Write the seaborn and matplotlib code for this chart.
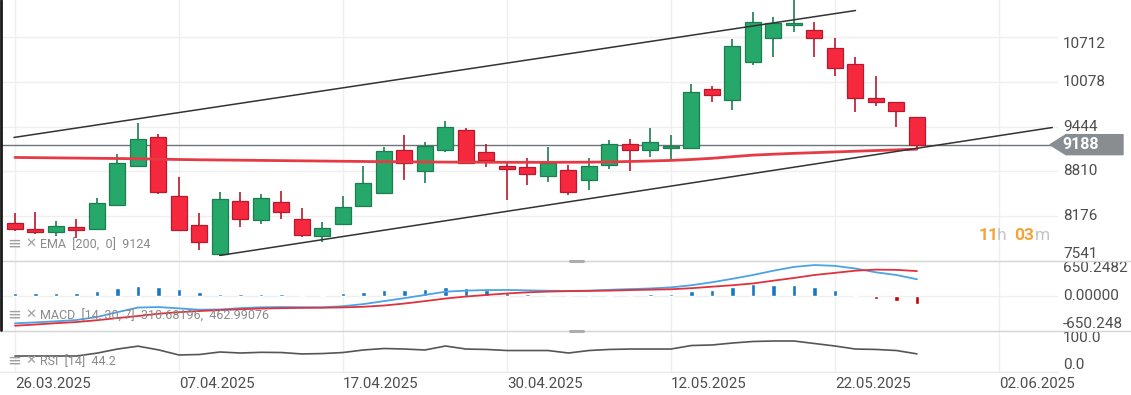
import numpy as np
import pandas as pd
import matplotlib
matplotlib.use("Agg")
import matplotlib.pyplot as plt
import matplotlib.transforms as mtransforms
from matplotlib.lines import Line2D
from matplotlib.patches import Polygon
import seaborn as sns

# daily candles (index = trading day)
opens = [8073, 7988, 7945, 8016, 7988, 8328, 8880, 9290, 8455, 8045, 7634, 8384, 8115, 8370, 8130,
         7889, 8059, 8314, 8497, 9106, 8809, 9106, 9389, 9078, 8880, 8865, 8738, 8823, 8681, 8894,
         9191, 9106, 9134, 9134, 9983, 9814, 10365, 10705, 10875, 10818, 10563, 10323, 9842, 9799, 9573]
highs = [8214, 8229, 8101, 8130, 8427, 9049, 9488, 9332, 8724, 8214, 8512, 8512, 8483, 8526, 8285,
         8087, 8455, 8880, 9148, 9318, 9219, 9516, 9417, 9191, 8950, 8993, 9148, 8894, 8993, 9247,
         9262, 9417, 9318, 10040, 10012, 10677, 11073, 11002, 11300, 10931, 10691, 10436, 10153, 9799, 9573]
lows = [7960, 7917, 7889, 7860, 7988, 8328, 8880, 8483, 7974, 7691, 7606, 8016, 8059, 8130, 7875,
        7804, 8059, 8314, 8497, 8681, 8639, 9078, 8922, 8865, 8398, 8611, 8653, 8469, 8540, 8837,
        8809, 9007, 8979, 9134, 9785, 9672, 10309, 10422, 10776, 10422, 10153, 9644, 9729, 9431, 9134]
closes = [7988, 7945, 8030, 7974, 8356, 8922, 9262, 8512, 7974, 7804, 8413, 8130, 8427, 8229, 7903,
          8002, 8299, 8639, 9092, 8922, 9163, 9431, 8922, 8964, 8837, 8766, 8922, 8512, 8880, 9191,
          9106, 9219, 9163, 9927, 9884, 10578, 10931, 10917, 10917, 10691, 10280, 9842, 9785, 9658, 9188]
ema200 = [9007, 9004, 9001, 8998, 8995, 8992, 8988, 8983, 8978, 8974, 8971, 8968, 8965, 8962, 8959,
          8956, 8953, 8950, 8947, 8945, 8943, 8941, 8940, 8939, 8938, 8938, 8938, 8939, 8940, 8944,
          8950, 8957, 8965, 8978, 8995, 9018, 9040, 9053, 9065, 9075, 9085, 9095, 9105, 9115, 9124]
macd_line = [-508, -490, -470, -446, -390, -300, -215, -205, -230, -255, -250, -225, -210, -205, -208,
             -210, -190, -150, -95, -40, 20, 80, 100, 110, 112, 105, 98, 93, 100, 115,
             128, 140, 160, 200, 255, 320, 390, 470, 540, 575, 560, 510, 440, 390, 311]
signal_line = [-552, -530, -505, -484, -450, -410, -372, -330, -300, -279, -262, -246, -233, -226, -221,
               -218, -212, -200, -177, -140, -95, -47, -10, 20, 47, 68, 82, 90, 95, 100,
               110, 118, 125, 145, 173, 200, 233, 285, 335, 390, 430, 470, 490, 485, 463]
macd_hist = [60, 60, 60, 60, 93, 143, 186, 162, 125, 69, 32, 37, 37, 37, 24,
             24, 50, 80, 112, 112, 130, 162, 143, 112, 62, 37, 19, 0, 0, 19,
             19, 37, 37, 93, 112, 162, 218, 205, 205, 162, 112, 19, -56, -93, -149]
rsi = [39, 39, 39, 39, 46, 56, 63, 54, 41.5, 42.7, 48.8, 46.3, 48, 47.5, 44,
       45, 47.5, 53.7, 57.3, 56, 53.7, 63.4, 56, 55, 52.4, 52.4, 52.4, 46.3, 52.4, 55,
       56, 56, 56, 64.6, 65.9, 70.7, 74.4, 75.6, 75.6, 69.5, 63.4, 56, 55, 52.4, 44.2]

date_ticks = [0, 8, 16, 24, 32, 40, 48]
date_labels = ["26.03.2025", "07.04.2025", "17.04.2025", "30.04.2025",
               "12.05.2025", "22.05.2025", "02.06.2025"]
price_ticks = [7541, 8176, 8810, 9444, 10078, 10712]
macd_ticks = [-650.2482, 0, 650.2482]
macd_labels = ["-650.248", "0.00000", "650.2482"]
rsi_ticks = [0, 100]
rsi_labels = ["0.0", "100.0"]

# channel trend lines (start/end anchors)
upper_x, upper_y = [-0.05, 41.0], [9290, 11087]
lower_x, lower_y = [10.0, 50.6], [7620, 9431]
last_price = 9188

sns.set_theme(style="white")
plt.rcParams['font.family'] = ['Roboto', 'DejaVu Sans']

df = pd.DataFrame({'idx': np.arange(len(closes)), 'open': opens, 'high': highs, 'low': lows,
                   'close': closes, 'ema': ema200, 'macd': macd_line, 'signal': signal_line,
                   'hist': macd_hist, 'rsi': rsi})

FW, FH = 1131, 395
W = 1058 / FW


def rect(top, bottom):
    return [0, 1 - bottom / FH, W, (bottom - top) / FH]


def px(x, y):
    return x / FW, 1 - y / FH


fig = plt.figure(figsize=(FW / 100, FH / 100), dpi=100)
ax_p = fig.add_axes(rect(0, 261))
ax_m = fig.add_axes(rect(261, 331), sharex=ax_p)
ax_r = fig.add_axes(rect(331, 372), sharex=ax_p)

grid_col = '#efefef'
label_col = '#4d4d4d'
for ax in (ax_p, ax_m, ax_r):
    for s in ax.spines.values():
        s.set_visible(False)
    ax.set_axisbelow(True)
    ax.grid(True, color=grid_col, lw=1)
    ax.tick_params(length=0, labelleft=False, labelright=False, labelbottom=False)

# --- price panel
up = df['close'] >= df['open']
body_col = np.where(up, '#26a86a', '#f5283e')
edge_col = np.where(up, '#1d7d50', '#b8192c')
ax_p.vlines(df['idx'], df['low'], df['high'], colors=edge_col, lw=1.2, zorder=3)
body_h = np.maximum((df['close'] - df['open']).abs(), 18)
ax_p.bar(df['idx'], body_h, bottom=np.minimum(df['open'], df['close']), width=0.78,
         color=body_col, edgecolor=edge_col, lw=0.9, zorder=4)
ax_p.axhline(last_price, color='#6e7478', lw=1, zorder=2)
sns.lineplot(data=df, x='idx', y='ema', ax=ax_p, color='#e63a45', lw=2, zorder=5)
ax_p.plot(upper_x, upper_y, color='#333333', lw=1.1, zorder=6)
ax_p.plot(lower_x, lower_y, color='#333333', lw=1.1, zorder=6)
ax_p.set_ylim(7541, 11236)
ax_p.set_yticks(price_ticks)

# --- MACD panel
hist_col = np.where(df['hist'] >= 0, '#1677c4', '#cc0000')
ax_m.bar(df['idx'], df['hist'], width=0.22, color=hist_col, zorder=3)
sns.lineplot(data=df, x='idx', y='macd', ax=ax_m, color='#4ba3e3', lw=1.3, zorder=4)
sns.lineplot(data=df, x='idx', y='signal', ax=ax_m, color='#e0323c', lw=1.3, zorder=4)
ax_m.set_ylim(-650.2482, 650.2482)
ax_m.set_yticks(macd_ticks)

# --- RSI panel
sns.lineplot(data=df, x='idx', y='rsi', ax=ax_r, color='#555555', lw=1.2, zorder=4)
ax_r.set_ylim(0, 100)
ax_r.set_yticks(rsi_ticks)

ax_r.set_xlim(-0.73, 50.88)
ax_r.set_xticks(date_ticks)
ax_r.set_xticklabels(date_labels, ha='left')
ax_r.tick_params(axis='x', labelbottom=True, pad=3.5, labelsize=10.8, labelcolor=label_col)
for ax in (ax_p, ax_m, ax_r):
    ax.set_xlabel('')
    ax.set_ylabel('')


def right_labels(ax, ticks, labels):
    tr = mtransforms.blended_transform_factory(ax.transAxes, ax.transData)
    for i, (v, lab) in enumerate(zip(ticks, labels)):
        va = 'bottom' if i == 0 else ('top' if i == len(ticks) - 1 else 'center')
        ax.text(1 + 5 / 1058, v, lab, transform=tr, ha='left', va=va, fontsize=11,
                color=label_col, clip_on=False)


right_labels(ax_p, price_ticks, [str(v) for v in price_ticks])
right_labels(ax_m, macd_ticks, macd_labels)
right_labels(ax_r, rsi_ticks, rsi_labels)

# last price tag
tr = mtransforms.blended_transform_factory(fig.transFigure, ax_p.transData)
hh = 10 * (11236 - 7541) / 261
tag_x = [1050 / FW, 1066 / FW, 1123 / FW, 1123 / FW, 1066 / FW]
tag_y = [last_price, last_price + hh, last_price + hh, last_price - hh, last_price - hh]
ax_p.add_patch(Polygon(list(zip(tag_x, tag_y)), closed=True, transform=tr, color='#878d91',
                       clip_on=False, zorder=10))
ax_p.text(1081 / FW, last_price, str(last_price), transform=tr, color='white', fontsize=11.5,
          fontweight='bold', ha='center', va='center', clip_on=False, zorder=11)

# countdown
orange, light = '#f5a33b', '#c4c4c4'
for x, s, c, w in [(979, '11', orange, 'bold'), (997, 'h', light, 'normal'),
                   (1014, '03', orange, 'bold'), (1035, 'm', light, 'normal')]:
    fig.text(*px(x, 236), s, color=c, fontsize=12.5, fontweight=w, ha='left', va='center')

# indicator legends
leg_col = '#8a8a8a'
for y, s in [(245, 'EMA  [200,  0]  9124'),
             (316, 'MACD  [14, 30, 7]  310.68196,  462.99076'),
             (362, 'RSI  [14]  44.2')]:
    fig.text(*px(7, y - 1), '≡', color='#a0a0a0', fontsize=12, ha='left', va='center',
             family=['DejaVu Sans'])
    fig.text(*px(25, y - 2), '✕', color='#a0a0a0', fontsize=9.5, fontweight='bold', ha='left',
             va='center', family=['DejaVu Sans'])
    fig.text(*px(40, y), s, color=leg_col, fontsize=9, ha='left', va='center')

# panel separators, handles and left edge
for y in (261, 331):
    fig.add_artist(Line2D([0, 1], [1 - y / FH] * 2, transform=fig.transFigure,
                          color='#d6d6d6', lw=1))
    fig.add_artist(Line2D([570 / FW, 583 / FW], [1 - y / FH] * 2, transform=fig.transFigure,
                          color='#adadad', lw=2.2))
fig.add_artist(Line2D([0, W], [1 - 372 / FH] * 2, transform=fig.transFigure,
                      color='#ebebeb', lw=1))
fig.add_artist(Line2D([0.9 / FW] * 2, [1, 1 - 330 / FH], transform=fig.transFigure,
                      color='#1a1a1a', lw=2))

fig.savefig('out.png', dpi=100)
plt.close(fig)
